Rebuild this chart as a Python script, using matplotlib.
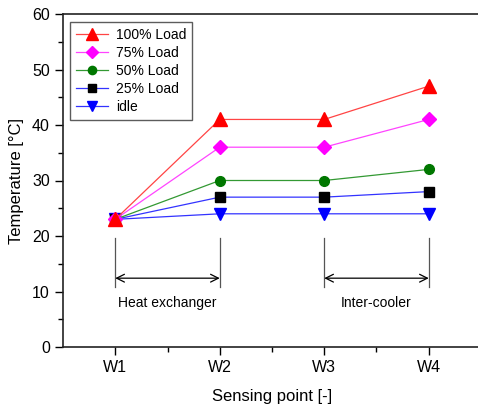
import matplotlib
matplotlib.use("Agg")
import matplotlib.pyplot as plt

plt.rcParams['font.family'] = ['Liberation Sans', 'DejaVu Sans']

points = ["W1", "W2", "W3", "W4"]
x = [1, 2, 3, 4]
load100 = [23, 41, 41, 47]
load75 = [23, 36, 36, 41]
load50 = [23, 30, 30, 32]
load25 = [23, 27, 27, 28]
idle = [23, 24, 24, 24]

fig = plt.figure(figsize=(4.78, 4.08), dpi=100)
ax = fig.add_axes([63/478, 1-347/408, (481-63)/478, (347-14)/408])

ax.plot(x, idle, color='#3333ff', lw=0.9, marker='v', ms=8.5, mfc='#0000ff', mec='#0000ff', label='idle', zorder=3)
ax.plot(x, load25, color='#3333ff', lw=0.9, marker='s', ms=6.5, mfc='black', mec='black', label='25% Load', zorder=4)
ax.plot(x, load50, color='#339933', lw=0.9, marker='o', ms=7, mfc='#007700', mec='#007700', label='50% Load', zorder=5)
ax.plot(x, load75, color='#ff44ff', lw=0.9, marker='D', ms=7, mfc='#ff00ff', mec='#ff00ff', label='75% Load', zorder=6)
ax.plot(x, load100, color='#ff4444', lw=0.9, marker='^', ms=9.5, mfc='#ff0000', mec='#ff0000', label='100% Load', zorder=7)

handles, labels = ax.get_legend_handles_labels()
leg = ax.legend(handles[::-1], labels[::-1], loc='upper left', bbox_to_anchor=(7/418, (347-22)/333),
                borderaxespad=0, fontsize=10, frameon=True, fancybox=False, edgecolor='#333333',
                handlelength=2.3, borderpad=0.4, labelspacing=0.3, handletextpad=0.6,
                markerscale=0.85)
leg.get_frame().set_linewidth(1.0)

# annotations
for (a, b, label) in [(1, 2, "Heat exchanger"), (3, 4, "Inter-cooler")]:
    for xv in (a, b):
        ax.plot([xv, xv], [10.8, 19.6], color='#555555', lw=0.9, zorder=2)
    ax.annotate('', xy=(a, 12.4), xytext=(b, 12.4),
                arrowprops=dict(arrowstyle='<->', color='black', lw=0.9,
                                shrinkA=0, shrinkB=0, mutation_scale=14))
    ax.text((a + b) / 2, 8.0, label, ha='center', va='center', fontsize=10)

ax.set_xlim(0.5, 4.5)
ax.set_ylim(0, 60)
ax.set_xticks(x)
ax.set_xticklabels(points)
ax.set_xticks([1.5, 2.5, 3.5], minor=True)
ax.set_yticks([0, 10, 20, 30, 40, 50, 60])
ax.set_yticks([5, 15, 25, 35, 45, 55], minor=True)
ax.tick_params(axis='both', which='major', direction='out', length=6, width=1, labelsize=11.5)
ax.tick_params(axis='both', which='minor', direction='out', length=3.5, width=1)
ax.tick_params(top=False, right=False)
for s in ax.spines.values():
    s.set_linewidth(1.2)
    s.set_color('#222222')

ax.set_xlabel('Sensing point [-]', fontsize=12, labelpad=10)
ax.set_ylabel('Temperature [°C]', fontsize=12, labelpad=6)

fig.savefig('out.png', dpi=100)
